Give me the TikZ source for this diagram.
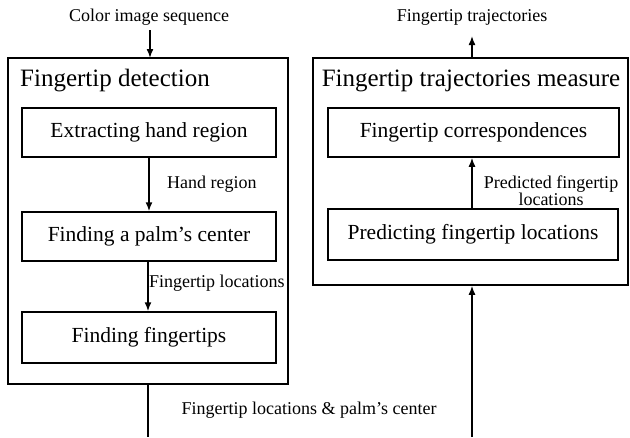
\documentclass[tikz,border=0pt]{standalone}
\usepackage{fontspec}
\setmainfont{Liberation Serif}
\usetikzlibrary{arrows.meta}
\begin{document}
\begin{tikzpicture}[x=1pt,y=-1pt,
  outer/.style={draw,line width=1.5pt,rectangle,inner sep=0pt},
  stepbox/.style={draw,line width=1.5pt,rectangle,inner sep=0pt,font=\fontsize{21.5}{24}\selectfont},
  title/.style={font=\fontsize{25}{28}\selectfont,inner sep=0pt},
  lbl/.style={font=\fontsize{18}{16}\selectfont,inner sep=0pt},
  arr/.style={line width=1.5pt,-{Latex[length=9pt,width=7pt]}},
  ln/.style={line width=1.5pt}]
\useasboundingbox (0,0) rectangle (630,437);
% outer boxes
\node[outer,minimum width=280pt,minimum height=326pt] (L) at (148,221) {};
\node[outer,minimum width=315pt,minimum height=227pt] (R) at (470.5,171.5) {};
\node[title,anchor=west] (Lt) at (20,81) {Fingertip detection};
\node[title] (Rt) at (471,81) {Fingertip trajectories measure};
% inner boxes
\node[stepbox,minimum width=254pt,minimum height=49pt] (ext) at (149,132.5) {Extracting hand region};
\node[stepbox,minimum width=254pt,minimum height=49pt] (palm) at (149,236.5) {Finding a palm's center};
\node[stepbox,minimum width=254pt,minimum height=51pt] (fing) at (149,337.5) {Finding fingertips};
\node[stepbox,minimum width=291pt,minimum height=49pt] (corr) at (473.5,132.5) {Fingertip correspondences};
\node[stepbox,minimum width=290pt,minimum height=51pt] (pred) at (473,234.5) {Predicting fingertip locations};
% labels
\node[lbl] (in) at (149,17) {Color image sequence};
\node[lbl] (out) at (472,17) {Fingertip trajectories};
\node[lbl,anchor=west] (hr) at (167,184) {Hand region};
\node[lbl,anchor=west] (fl) at (149,283) {Fingertip locations};
\node[lbl,align=center] (pfl) at (551,191) {Predicted fingertip\\locations};
\node[lbl] (bl) at (309,410) {Fingertip locations \& palm's center};
% connectors
\coordinate (b1) at (148,437);
\coordinate (b2) at (472,437);
\draw[arr] (150,30) -- (150,58);
\draw[arr] (472,58) -- (472,36);
\draw[arr] (ext.south -| 149,0) -- (palm.north -| 149,0);
\draw[arr] (palm.south -| 148,0) -- (fing.north -| 148,0);
\draw[arr] (pred.north -| 472,0) -- (corr.south -| 472,0);
\draw[ln] (L.south -| b1) -- (b1);
\draw[arr] (b2) -- (R.south -| b2);
\end{tikzpicture}
\end{document}
